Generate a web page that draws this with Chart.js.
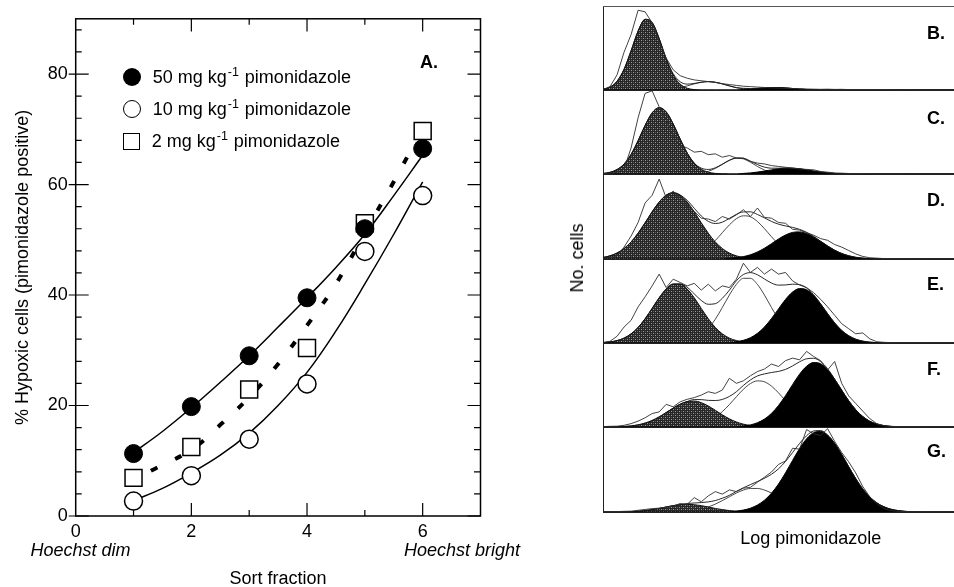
<!DOCTYPE html>
<html>
<head>
<meta charset="utf-8">
<script src="https://cdn.jsdelivr.net/npm/chart.js@4.4.0/dist/chart.umd.min.js"></script>
<style>
  html, body { margin:0; padding:0; background:#fff; }
  #wrap { position:relative; width:954px; height:587px; overflow:hidden; background:#fff;
          font-family:'Liberation Sans', Arial, sans-serif; color:#000; }
  canvas { position:absolute; }
  .t { position:absolute; font-size:18px; line-height:18px; white-space:nowrap; }
  .c { transform:translate(-50%,-50%); }
  .lab { position:absolute; font-size:18px; font-weight:bold; line-height:18px; transform:translateY(-50%); }
  .sup { font-size:12.5px; position:relative; top:-7px; margin-left:1px; margin-right:1px; }
  .mk { position:absolute; box-sizing:border-box; }
</style>
</head>
<body>
<div id="wrap">
  <canvas id="left" width="600" height="587" style="left:0;top:0"></canvas>
  <canvas id="pB" width="351" height="86" style="left:603px;top:6px"></canvas>
  <canvas id="pC" width="351" height="86" style="left:603px;top:90px"></canvas>
  <canvas id="pD" width="351" height="87" style="left:603px;top:174px"></canvas>
  <canvas id="pE" width="351" height="86" style="left:603px;top:259px"></canvas>
  <canvas id="pF" width="351" height="86" style="left:603px;top:343px"></canvas>
  <canvas id="pG" width="351" height="87" style="left:603px;top:427px"></canvas>

  <!-- legend -->
  <div class="mk" style="left:122.7px;top:68px;width:18px;height:18px;border-radius:50%;background:#000"></div>
  <div class="mk" style="left:122.7px;top:100px;width:18px;height:18px;border-radius:50%;border:1.5px solid #000;background:#fff"></div>
  <div class="mk" style="left:123.2px;top:133.2px;width:17px;height:17px;border:1.5px solid #000;background:#fff"></div>
  <div class="t" style="left:152.7px;top:68px">50 mg kg<span class="sup">-1</span> pimonidazole</div>
  <div class="t" style="left:152.7px;top:100px">10 mg kg<span class="sup">-1</span> pimonidazole</div>
  <div class="t" style="left:151.7px;top:131.5px">2 mg kg<span class="sup">-1</span> pimonidazole</div>

  <div class="lab" style="left:420px;top:62px">A.</div>
  <div class="t c" style="left:80.5px;top:550px;font-style:italic">Hoechst dim</div>
  <div class="t c" style="left:462px;top:550px;font-style:italic">Hoechst bright</div>

  <div class="lab" style="left:927px;top:32.5px">B.</div>
  <div class="lab" style="left:927px;top:117.5px">C.</div>
  <div class="lab" style="left:927px;top:200px">D.</div>
  <div class="lab" style="left:927px;top:284px">E.</div>
  <div class="lab" style="left:927px;top:368.5px">F.</div>
  <div class="lab" style="left:927px;top:450.5px">G.</div>
  <div class="t" style="left:577px;top:258px;transform:translate(-50%,-50%) rotate(-90deg)">No. cells</div>
  <div class="t c" style="left:810.8px;top:538px">Log pimonidazole</div>
</div>
<script>
// ---------------- Panel A data ----------------
const sortFraction = [1, 2, 3, 4, 5, 6];
const dose50 = [11.3, 19.8, 29, 39.5, 52, 66.5];
const dose10 = [2.7, 7.3, 13.9, 23.9, 47.9, 58];
const dose2  = [6.9, 12.5, 22.9, 30.4, 53, 69.7];
const curveX50 = [1, 1.5, 2, 2.5, 3, 3.5, 4, 4.5, 5, 5.5, 6];
const curve50  = [11.5, 15.3, 19.6, 24.2, 29, 34.2, 39.5, 45, 51, 58, 65.3];
const curveX10 = [1, 1.5, 2, 2.5, 3, 3.5, 4, 4.5, 5, 5.5, 6];
const curve10  = [2.8, 5, 7.8, 11, 15, 20, 26, 33.5, 42, 51, 60.5];
const curveX2  = [1.3, 2, 2.5, 3, 3.5, 4, 4.5, 5, 5.5, 5.8];
const curve2   = [8.2, 12, 16.5, 21.5, 27.5, 34.5, 42, 51.3, 60.5, 66.3];
const xTickValues = [0, 2, 4, 6];
const yTickValues = [0, 20, 40, 60, 80];

// ---------------- Panels B-G data (log pimonidazole channel, 0..100) ----------------
const channels = [0,2,4,6,8,10,12,14,16,18,20,22,24,26,28,30,32,34,36,38,40,42,44,46,48,50,
                  52,54,56,58,60,62,64,66,68,70,72,74,76,78,80,82,84,86,88,90,92,94,96,98,100];

const hatchB = [0.9,3.5,10.4,24.7,46.7,70.2,84.1,80.4,61.3,37.2,18,7,2.1,0.5,
  0,0,0,0,0,0,0,0,0,0, 0,0,0,0,0,0,0,0,0,0, 0,0,0,0,0,0,0,0,0,0, 0,0,0,0,0,0,0];
const whiteB = [0,0,0,0,0,0,0,0,0,0,
  1.4,2.8,4.9,7.3,9.2,10,9.2,7.3,4.9,2.8,1.4,0.6,0.2,
  0,0,0,0,0,0,0,0,0,0, 0,0,0,0,0,0,0,0,0,0, 0,0,0,0,0,0,0,0];
const blackB = [0,0,0,0,0,0,0,0,0,0, 0,0,0,0,0,0,0,0,0,0,
  0.6,1.1,1.8,2.5,2.9,2.9,2.5,1.8,1.1,0.6,0.3,
  0,0,0,0,0,0,0,0,0,0, 0,0,0,0,0,0,0,0,0,0];
const rawB = [0.5,4,18,45,66,95,93,80,58,38,24,17,14,12,11,10,9,7.5,6.5,5.5,4.5,4,3.5,3,2.5,2.2,
  2,1.7,1.5,1.2,1,0.8,1,0.7,0.8,0.5,0.6,0.4,0.5,0.3,0.4,0.3,0.2,0.3,0.2,0.2,0.2,0.1,0.1,0.1,0.1];

const hatchC = [0.6,2,5.3,11.9,23.4,39.7,57.9,72.8,79,73.9,59.6,41.5,24.9,12.9,5.7,2.2,0.7,0.2,
  0,0,0,0,0,0,0,0,0,0, 0,0,0,0,0,0,0,0,0,0, 0,0,0,0,0,0,0,0,0,0, 0,0,0];
const whiteC = [0,0,0,0,0,0,0,0,0,0, 0,0,0,0,
  1.3,3.2,6.7,11.5,16.3,18.9,18,14,9,4.7,2,0.7,0.2,
  0,0,0,0,0,0,0,0,0,0, 0,0,0,0,0,0,0,0,0,0, 0,0,0,0];
const blackC = [0,0,0,0,0,0,0,0,0,0, 0,0,0,0,0,0,0,0,0,0,
  0.7,1.3,2.3,3.5,4.9,6.2,6.9,6.9,6.2,4.9,3.5,2.3,1.3,0.7,0.3,
  0,0,0,0,0,0,0,0,0,0, 0,0,0,0,0,0];
const rawC = [0.5,1,2,6,31,67,96,99,80,65,45,34,31,26,27,23,24,20,22,19,19,15,13,12,10,9,
  8,7,6,5.5,5,3,2.2,1.2,1,0.6,0.5,0.4,0.3,0.3,0.2,0.3,0.2,0.2,0.1,0.2,0.1,0.1,0.1,0.1,0.1];

const hatchD = [1.8,3.7,7,12.3,20,30.4,42.6,55.5,67,75.1,78,75.1,67,55.5,42.6,30.4,20,12.3,7,3.7,1.8,0.8,
  0,0,0,0,0,0,0,0,0,0, 0,0,0,0,0,0,0,0,0,0, 0,0,0,0,0,0,0,0,0];
const whiteD = [0,0,0,0,0,0,0,0,0,0, 0,0,
  2,4.2,8,13.9,21.7,31,40.1,47.4,50.8,49.7,44.1,35.7,26.2,17.5,10.7,5.9,3,1.4,0.6,
  0,0,0,0,0,0,0,0,0,0, 0,0,0,0,0,0,0,0,0,0];
const blackD = [0,0,0,0,0,0,0,0,0,0, 0,0,0,0,0,0,0,0,
  0.7,1.4,2.8,5,8.3,12.7,18,23.5,28.2,31.3,31.9,30,26,20.8,15.3,10.4,6.5,3.8,2,1,0.4,0.2,
  0,0,0,0,0,0,0,0,0,0,0];
const rawD = [0.5,1.5,4,14,27,43,66,75,94,72,80,69,62,56,48,47,44,50,47,52,58,50,60,49,48,43,
  42,35,34,31,28,24,22,17,14,10,6,3,1.5,1,0.5,0.4,0.3,0.3,0.2,0.2,0.2,0.1,0.1,0.1,0.1];

const hatchE = [0.5,1.3,2.9,5.8,10.9,18.5,28.9,41.2,53.8,64.2,70.2,70.2,64.2,53.8,41.2,28.9,18.5,10.9,5.8,2.9,1.3,0.5,
  0,0,0,0,0,0,0,0,0,0, 0,0,0,0,0,0,0,0,0,0, 0,0,0,0,0,0,0,0,0];
const whiteE = [0,0,0,0,0,0,0,0,0,0, 0,0,
  2.1,4.7,9.4,17.2,28.3,42.3,57.1,69.7,77,77,69.7,57.1,42.3,28.3,17.2,9.4,4.7,2.1,0.9,
  0,0,0,0,0,0,0,0,0,0, 0,0,0,0,0,0,0,0,0,0];
const blackE = [0,0,0,0,0,0,0,0,0,0, 0,0,0,0,0,0,0,0,0,
  1.5,3.2,6.3,11.5,19.1,29.1,40.6,51.9,60.6,64.8,63.4,56.7,46.5,34.8,23.9,14.9,8.6,4.5,2.2,1,0.4,
  0,0,0,0,0,0,0,0,0,0,0];
const rawE = [0.5,2,8,19,27,43,55,68,82,66,76,72,68,71,63,70,62,68,66,76,95,84,90,82,88,82,
  84,74,69,66,60,52,43,33,23,17,11,12,5,1.5,0.8,0.5,0.4,0.3,0.3,0.2,0.2,0.2,0.1,0.1,0.1];

const hatchF = [0,0,0,
  0.6,1.2,2.5,4.6,7.7,12,17.2,22.5,27.2,30.3,30.9,29,25,19.9,14.5,9.7,6,3.4,1.8,0.8,
  0,0,0,0,0,0,0,0,0,0, 0,0,0,0,0,0,0,0,0,0, 0,0,0,0,0,0,0,0];
const whiteF = [0,0,0,0,0,0,0,0,0,0, 0,0,0,
  1.8,3.6,6.7,11.6,18.3,26.7,36,44.9,51.7,54.9,53.8,48.7,40.6,31.3,22.3,14.7,8.9,5,2.6,1.2,
  0,0,0,0,0,0,0,0,0,0, 0,0,0,0,0,0,0,0];
const blackF = [0,0,0,0,0,0,0,0,0,0, 0,0,0,0,0,0,0,0,0,0,
  1.2,2.5,5.1,9.4,16.2,25.6,37.3,50.4,62.9,72.3,76.8,75.3,68.1,56.9,43.9,31.3,20.6,12.5,6.9,3.6,1.7,0.7,
  0,0,0,0,0,0,0,0,0];
const rawF = [0.5,0.8,1,2,4,7,11,16,18,27,24,30,33,35,38,42,40,44,58,52,55,61,66,69,75,72,
  79,82,80,90,84,79,68,78,52,37,28,19,10,4,1.5,0.8,0.5,0.4,0.3,0.3,0.2,0.2,0.1,0.1,0.1];

const hatchG = [0,0,0,0,
  0.4,0.9,1.7,2.8,4.2,5.9,7.5,8.6,9,8.6,7.5,5.9,4.2,2.8,1.7,0.9,0.4,
  0,0,0,0,0,0,0,0,0,0, 0,0,0,0,0,0,0,0,0,0, 0,0,0,0,0,0,0,0,0,0];
const whiteG = [0,0,0,0,0,0,0,0,0,0, 0,0,
  1,2,3.6,6,9.3,13.4,17.9,22.3,25.8,27.7,27.7,25.8,22.3,17.9,13.4,9.3,6,3.6,2,1,
  0,0,0,0,0,0,0,0,0,0, 0,0,0,0,0,0,0,0,0];
const blackG = [0,0,0,0,0,0,0,0,0,0, 0,0,0,0,0,0,0,0,0,
  1.1,2.3,4.5,8.2,13.9,22.1,32.9,46.1,60.6,74.6,86.1,93.3,94.8,90.4,80.8,67.8,53.3,39.3,27.2,17.7,10.8,6.2,3.3,1.7,0.8,0.3,
  0,0,0,0,0,0];
const rawG = [0.3,0.5,0.5,0.8,1,2,3,4,4.5,5.5,7,10,9,17,12,19,24,21,26,24,28,29,35,41,47,56,
  60,75,74,97,92,90,98,83,70,59,46,30,18,10,4,1.5,0.8,0.5,0.4,0.3,0.3,0.2,0.2,0.1,0.1];

// ---------------- Chart setup ----------------
Chart.defaults.font.family = "'Liberation Sans', Arial, sans-serif";
Chart.defaults.font.size = 18;
Chart.defaults.color = '#000';

const toXY = (xs, ys) => xs.map((x, i) => ({ x, y: ys[i] }));

const frameA = {
  id: 'frameA',
  afterDatasetsDraw(chart) {
    const { ctx, chartArea: a, scales: { x, y } } = chart;
    ctx.save();
    ctx.strokeStyle = '#000';
    ctx.lineWidth = 1.5;
    ctx.strokeRect(a.left, a.top, a.right - a.left, a.bottom - a.top);
    ctx.lineWidth = 1.2;
    ctx.beginPath();
    for (let v = 0; v <= 90; v += 4) {
      const py = y.getPixelForValue(v);
      const major = yTickValues.includes(v);
      ctx.moveTo(a.left - (major ? 7 : 0), py); ctx.lineTo(a.left + (major ? 13 : 6), py);
      ctx.moveTo(a.right - (major ? 13 : 6.5), py); ctx.lineTo(a.right, py);
    }
    for (let v = 1; v <= 6; v += 1) {
      const px = x.getPixelForValue(v);
      const major = v % 2 === 0;
      ctx.moveTo(px, a.top); ctx.lineTo(px, a.top + (major ? 12.7 : 6));
      ctx.moveTo(px, a.bottom); ctx.lineTo(px, a.bottom - (major ? 13 : 6));
    }
    ctx.stroke();
    ctx.restore();
  }
};

new Chart(document.getElementById('left'), {
  type: 'line',
  data: {
    datasets: [
      { label: '50 mg kg-1 pimonidazole', data: toXY(sortFraction, dose50), showLine: false,
        pointRadius: 9, pointBackgroundColor: '#000', pointBorderColor: '#000', pointBorderWidth: 1, order: 0 },
      { label: '10 mg kg-1 pimonidazole', data: toXY(sortFraction, dose10), showLine: false,
        pointRadius: 9, pointBackgroundColor: '#fff', pointBorderColor: '#000', pointBorderWidth: 1.5, order: 0 },
      { label: '2 mg kg-1 pimonidazole', data: toXY(sortFraction, dose2), showLine: false, pointStyle: 'rect',
        pointRadius: 12, pointBackgroundColor: '#fff', pointBorderColor: '#000', pointBorderWidth: 1.5, order: 0 },
      { label: 'fit 50', data: toXY(curveX50, curve50), borderColor: '#000', borderWidth: 1.5,
        pointRadius: 0, tension: 0.4, order: 1 },
      { label: 'fit 10', data: toXY(curveX10, curve10), borderColor: '#000', borderWidth: 1.5,
        pointRadius: 0, tension: 0.4, order: 1 },
      { label: 'fit 2', data: toXY(curveX2, curve2), borderColor: '#000', borderWidth: 4, borderDash: [7, 20],
        borderCapStyle: 'butt', pointRadius: 0, tension: 0.4, order: 1 }
    ]
  },
  options: {
    responsive: false, animation: false, events: [],
    layout: { padding: { left: 0, top: 13, right: 119.5, bottom: 0 } },
    plugins: { legend: { display: false }, tooltip: { enabled: false } },
    scales: {
      x: {
        type: 'linear', min: 0, max: 7,
        afterBuildTicks: s => { s.ticks = xTickValues.map(v => ({ value: v })); },
        afterFit: s => { s.height = 71; },
        grid: { display: false, drawTicks: false }, border: { display: false },
        ticks: { padding: 5, maxRotation: 0, font: { size: 18 } },
        title: { display: true, text: 'Sort fraction', font: { size: 18, lineHeight: 1 }, padding: { top: 0, bottom: -1 } }
      },
      y: {
        type: 'linear', min: 0, max: 90,
        afterBuildTicks: s => { s.ticks = yTickValues.map(v => ({ value: v })); },
        afterFit: s => { s.width = 75.7; },
        grid: { display: false, drawTicks: false }, border: { display: false },
        ticks: { padding: 8, font: { size: 18 } },
        title: { display: true, text: '% Hypoxic cells (pimonidazole positive)', font: { size: 18, lineHeight: 1 }, padding: { top: 14, bottom: 0 } }
      }
    }
  },
  plugins: [frameA]
});

// ---------------- Histogram panels ----------------
function hatchPattern(canvas) {
  const tile = document.createElement('canvas');
  tile.width = 4; tile.height = 4;
  const g = tile.getContext('2d');
  g.fillStyle = '#262626'; g.fillRect(0, 0, 4, 4);
  g.fillStyle = '#9c9c9c'; g.fillRect(0, 0, 1, 1); g.fillRect(2, 2, 1, 1);
  g.fillStyle = '#5e5e5e'; g.fillRect(2, 0, 1, 1); g.fillRect(0, 2, 1, 1);
  return canvas.getContext('2d').createPattern(tile, 'repeat');
}

const panelFrame = {
  id: 'panelFrame',
  afterDraw(chart, args, opts) {
    const { ctx, chartArea: a } = chart;
    ctx.save();
    ctx.strokeStyle = '#222';
    ctx.lineWidth = 1;
    ctx.beginPath();
    ctx.moveTo(a.left, a.bottom + 0.5); ctx.lineTo(a.right, a.bottom + 0.5);
    ctx.moveTo(a.left + 0.5, a.top); ctx.lineTo(a.left + 0.5, a.bottom + 1);
    ctx.stroke();
    if (opts && opts.top) {
      ctx.strokeStyle = '#555';
      ctx.beginPath(); ctx.moveTo(a.left, a.top + 0.5); ctx.lineTo(a.right, a.top + 0.5); ctx.stroke();
    }
    ctx.restore();
  }
};

function makePanel(id, hatch, white, black, raw, top) {
  const cv = document.getElementById(id);
  const fit = hatch.map((v, i) => v + white[i] + black[i]);
  new Chart(cv, {
    type: 'line',
    data: {
      labels: channels,
      datasets: [
        { label: 'data', data: raw, borderColor: '#2e2e2e', borderWidth: 0.9, pointRadius: 0, tension: 0, order: 0 },
        { label: 'fit', data: fit, borderColor: '#111', borderWidth: 0.9, pointRadius: 0, cubicInterpolationMode: 'monotone', order: 1 },
        { label: 'oxic-hypoxic', data: white, borderColor: '#333', borderWidth: 0.9, pointRadius: 0, cubicInterpolationMode: 'monotone', fill: false, order: 4 },
        { label: 'hypoxic', data: black, borderColor: '#000', borderWidth: 1, backgroundColor: '#000', fill: 'origin', pointRadius: 0, cubicInterpolationMode: 'monotone', order: 2 },
        { label: 'oxic', data: hatch, borderColor: '#111', borderWidth: 1, backgroundColor: hatchPattern(cv), fill: 'origin', pointRadius: 0, cubicInterpolationMode: 'monotone', order: 3 }
      ]
    },
    options: {
      responsive: false, animation: false, events: [],
      layout: { padding: { left: 0, right: 0, top: 0, bottom: 2 } },
      plugins: { legend: { display: false }, tooltip: { enabled: false }, panelFrame: { top: !!top } },
      scales: {
        x: { display: false, offset: false },
        y: { display: false, min: 0, max: 100 }
      }
    },
    plugins: [panelFrame]
  });
}

makePanel('pB', hatchB, whiteB, blackB, rawB, true);
makePanel('pC', hatchC, whiteC, blackC, rawC);
makePanel('pD', hatchD, whiteD, blackD, rawD);
makePanel('pE', hatchE, whiteE, blackE, rawE);
makePanel('pF', hatchF, whiteF, blackF, rawF);
makePanel('pG', hatchG, whiteG, blackG, rawG);
</script>
</body>
</html>
